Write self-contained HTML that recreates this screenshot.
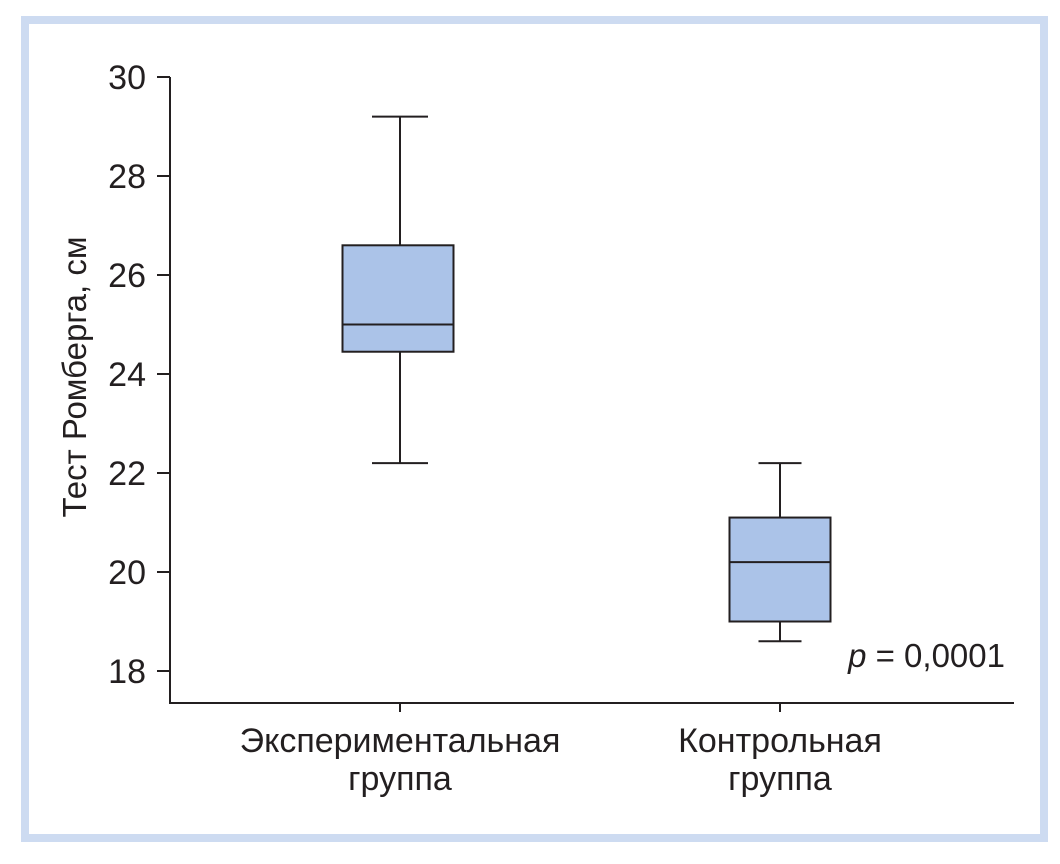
<!DOCTYPE html>
<html><head><meta charset="utf-8"><style>
html,body{margin:0;padding:0;background:#fff;}
svg{display:block;font-family:"Liberation Sans","DejaVu Sans",sans-serif;}
</style></head><body>
<svg id="chart" width="1060" height="864" viewBox="0 0 1060 864">
<rect x="25" y="20" width="1019" height="818" fill="#fff" stroke="#cddbf1" stroke-width="8"/>
<g id="yaxis"></g>
<g id="xaxis"></g>
<g id="boxes"></g>
<text x="86" y="377" font-size="33" fill="#231f20" text-anchor="middle" transform="rotate(-90 86 377)">Тест Ромберга, см</text>
<text x="1005" y="667" font-size="33" fill="#231f20" text-anchor="end"><tspan font-style="italic">p</tspan> = 0,0001</text>
</svg>
<script>
const categories = [["Экспериментальная","группа"],["Контрольная","группа"]];
const mins = [22.2, 18.6];
const q1s = [24.45, 19.0];
const medians = [25.0, 20.2];
const q3s = [26.6, 21.1];
const maxs = [29.2, 22.2];
const yTicks = [18,20,22,24,26,28,30];

const NS="http://www.w3.org/2000/svg";
function y(v){return 671-(v-18)*49.5;}
const centers=[398,780];
function xc(i){return centers[i];}
function mk(tag,attrs,parent){const e=document.createElementNS(NS,tag);for(const k in attrs)e.setAttribute(k,attrs[k]);parent.appendChild(e);return e;}
const ya=document.getElementById('yaxis'),xa=document.getElementById('xaxis'),bx=document.getElementById('boxes');
const line={stroke:"#231f20","stroke-width":2,fill:"none"};
let l=mk('line',Object.assign({x1:170,y1:y(30),x2:170,y2:703},line),ya);


yTicks.forEach(t=>{
  const tk=mk('line',Object.assign({x1:157,x2:170,y1:y(t),y2:y(t)},line),ya);
  
  
  const tx=mk('text',{x:146,y:y(t)+12,"font-size":34,"text-anchor":"end",fill:"#231f20"},ya);
  tx.textContent=t;
  
  
});
l=mk('line',Object.assign({x1:169,y1:703,x2:1014,y2:703},line),xa);


categories.forEach((c,i)=>{
  const tk=mk('line',Object.assign({x1:[400,780][i],x2:[400,780][i],y1:703,y2:712},line),xa);
  
  
  c.forEach((s,j)=>{
    const tx=mk('text',{x:[400,780][i],y:752+j*38,"font-size":34,"text-anchor":"middle",fill:"#231f20"},xa);
    tx.textContent=s;
    
    
  });
  const g=mk('g',{},bx);
  
  
  const bw=i===0?111:101, cw=i===0?56:43, cx=xc(i);
  const wx=[400,780][i];
  mk('line',Object.assign({x1:wx,x2:wx,y1:y(maxs[i]),y2:y(q3s[i])},line),g);
  mk('line',Object.assign({x1:wx,x2:wx,y1:y(q1s[i]),y2:y(mins[i])},line),g);
  mk('line',Object.assign({x1:wx-cw/2,x2:wx+cw/2,y1:y(maxs[i]),y2:y(maxs[i])},line),g);
  mk('line',Object.assign({x1:wx-cw/2,x2:wx+cw/2,y1:y(mins[i]),y2:y(mins[i])},line),g);
  mk('rect',{x:cx-bw/2,y:y(q3s[i]),width:bw,height:y(q1s[i])-y(q3s[i]),fill:"#abc3e8",stroke:"#231f20","stroke-width":2},g);
  mk('line',Object.assign({x1:cx-bw/2,x2:cx+bw/2,y1:y(medians[i]),y2:y(medians[i])},line),g);
});
</script>
</body></html>
